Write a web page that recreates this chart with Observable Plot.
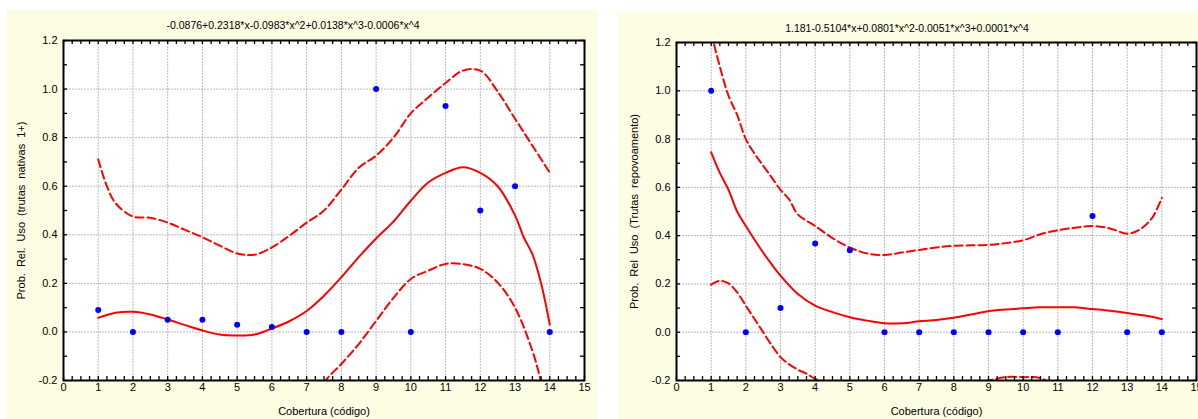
<!DOCTYPE html>
<html><head><meta charset="utf-8">
<script src="https://cdn.jsdelivr.net/npm/d3@7"></script>
<script src="https://cdn.jsdelivr.net/npm/@observablehq/plot@0.6"></script>
<style>
body{margin:0;background:#fff;width:1198px;height:419px;overflow:hidden;position:relative;font-family:"Liberation Sans",Arial,sans-serif;}
.panel{position:absolute;background:#fdfde3;}
.title{position:absolute;font-size:10.5px;line-height:12px;white-space:nowrap;transform:translateX(-50%);color:#000}
svg text{fill:#000}
g[aria-label="y-axis label"] text{word-spacing:3px}
</style></head><body>
<div id="p1" class="panel" style="left:6px;top:10px;width:591px;height:409px"></div>
<div id="p2" class="panel" style="left:618px;top:12px;width:580px;height:407px"></div>
<script>
// ---- tick labels ----
const xTicks = [0,1,2,3,4,5,6,7,8,9,10,11,12,13,14,15];
const yTicks = [-0.2,0,0.2,0.4,0.6,0.8,1.0,1.2];
const gridX = [1,2,3,4,5,6,7,8,9,10,11,12,13,14];
const gridY = [0,0.2,0.4,0.6,0.8,1.0];

// ---- panel 1: trutas nativas 1+ ----
const title1 = "-0.0876+0.2318*x-0.0983*x^2+0.0138*x^3-0.0006*x^4";
const ylabel1 = "Prob. Rel. Uso (trutas nativas 1+)";
const obsX = [1,2,3,4,5,6,7,8,9,10,11,12,13,14];
const nativeObs = [0.09,0.0,0.05,0.05,0.03,0.02,0.0,0.0,1.0,0.0,0.93,0.5,0.6,0.0];
const nativeFitX = [1,1.5,2,2.5,3,3.5,4,4.5,5,5.5,6,6.5,7,7.5,8,8.5,9,9.5,10,10.5,11,11.5,12,12.5,13,13.25,13.5,13.75,14];
const nativeFitY = [0.058,0.079,0.083,0.072,0.051,0.028,0.006,-0.011,-0.015,-0.011,0.014,0.044,0.086,0.149,0.225,0.308,0.385,0.454,0.54,0.615,0.655,0.678,0.655,0.60,0.48,0.39,0.32,0.2,0.03];
const nativeUpX = [1,1.25,1.5,2,2.5,3,3.5,4,4.5,5,5.5,6,6.5,7,7.5,8,8.5,9,9.5,10,10.5,11,11.5,12,12.5,13,13.5,14];
const nativeUpY = [0.71,0.6,0.53,0.475,0.47,0.45,0.42,0.39,0.355,0.323,0.318,0.348,0.396,0.45,0.5,0.586,0.676,0.726,0.80,0.9,0.965,1.025,1.076,1.076,0.99,0.878,0.767,0.656];
const nativeLoX = [7.2,7.55,8,8.5,9,9.5,10,10.5,11,11.5,12,12.5,13,13.5,13.75,14];
const nativeLoY = [-0.3,-0.2,-0.132,-0.05,0.045,0.14,0.218,0.252,0.28,0.279,0.26,0.203,0.1,-0.078,-0.205,-0.35];

// ---- panel 2: trutas repovoamento ----
const title2 = "1.181-0.5104*x+0.0801*x^2-0.0051*x^3+0.0001*x^4";
const ylabel2 = "Prob. Rel Uso (Trutas repovoamento)";
const stockObs = [1.0,0.0,0.1,0.367,0.34,0.0,0.0,0.0,0.0,0.0,0.0,0.481,0.0,0.0];
const stockFitX = [1,1.25,1.5,1.75,2,2.5,3,3.5,4,4.5,5,5.5,6,6.5,7,7.5,8,8.5,9,9.5,10,10.5,11,11.5,12,12.5,13,13.5,14];
const stockFitY = [0.745,0.66,0.59,0.5,0.44,0.33,0.234,0.158,0.11,0.083,0.062,0.048,0.037,0.037,0.045,0.051,0.06,0.073,0.087,0.094,0.099,0.103,0.103,0.103,0.096,0.089,0.08,0.069,0.055];
const stockUpX = [1,1.25,1.5,1.75,2,2.25,2.5,2.75,3,3.25,3.5,4,4.5,5,5.5,6,6.5,7,7.5,8,8.5,9,9.5,10,10.5,11,11.5,12,12.5,13,13.25,13.5,13.75,14];
const stockUpY = [1.24,1.1,0.98,0.9,0.80,0.74,0.69,0.64,0.59,0.55,0.488,0.44,0.39,0.351,0.326,0.32,0.33,0.341,0.351,0.358,0.36,0.362,0.369,0.381,0.406,0.422,0.433,0.44,0.43,0.408,0.417,0.44,0.48,0.556];
const stockLoX = [1,1.25,1.5,1.75,2,2.25,2.5,2.75,3,3.25,3.5,3.75,4,4.25,4.5,5,6,7,8,9,9.5,10,10.5,11,12];
const stockLoY = [0.197,0.213,0.202,0.165,0.11,0.055,0.0,-0.055,-0.103,-0.133,-0.155,-0.172,-0.193,-0.206,-0.22,-0.25,-0.27,-0.25,-0.22,-0.2,-0.186,-0.186,-0.19,-0.23,-0.3];

const xLabel = "Cobertura (código)";

function pts(xs, ys){ return xs.map((x,i)=>({x, y: ys[i]})); }

function panel(el, o){
  const fw = o.width - o.ml - o.mr, fh = o.height - o.mt - o.mb;
  const minorX = d3.range(0, 15.001, 0.25);
  const minorY = d3.range(-0.2, 1.2001, 0.1);
  const lineOpt = {x:"x", y:"y", stroke:"#ff0000", strokeWidth:2, curve:"catmull-rom", clip:true};
  const chart = Plot.plot({
    width: o.width, height: o.height,
    marginLeft: o.ml, marginRight: o.mr, marginTop: o.mt, marginBottom: o.mb,
    x: {domain:[0,15]}, y: {domain:[-0.2,1.2]},
    style: {background:"transparent", fontFamily:'"Liberation Sans", Arial, sans-serif', fontSize:"11px", overflow:"visible", color:"#000"},
    marks: [
      Plot.frame({fill:"white"}),
      Plot.ruleX(gridX, {stroke:"#bcbcbc", strokeWidth:1, strokeDasharray:"2,1"}),
      Plot.ruleY(gridY, {stroke:"#bcbcbc", strokeWidth:1, strokeDasharray:"2,1"}),
      Plot.line(pts(o.upX, o.upY), {...lineOpt, strokeDasharray:"8,4"}),
      Plot.line(pts(o.loX, o.loY), {...lineOpt, strokeDasharray:"8,4"}),
      Plot.line(pts(o.fitX, o.fitY), lineOpt),
      Plot.dot(pts(obsX, o.obs), {x:"x", y:"y", r:3, fill:"#0000ff"}),
      Plot.frame({stroke:"#000", strokeWidth:2}),
      Plot.tickX(minorX, {x:d=>d, insetTop: fh-4, stroke:"#000", strokeWidth:1.3}),
      Plot.tickX(minorX, {x:d=>d, insetBottom: fh-4, stroke:"#000", strokeWidth:1.3}),
      Plot.tickY(minorY, {y:d=>d, insetRight: fw-4, stroke:"#000", strokeWidth:1.3}),
      Plot.tickY(minorY, {y:d=>d, insetLeft: fw-4, stroke:"#000", strokeWidth:1.3}),
      Plot.axisX(xTicks, {tickSize:0, tickPadding:3, tickFormat:d=>String(d), label:xLabel, labelArrow:"none", labelAnchor:"center", labelOffset:34, fontSize:11}),
      Plot.axisY(yTicks, {tickSize:0, tickPadding:6, tickFormat:d=>d.toFixed(1), label:o.ylabel, labelArrow:"none", labelAnchor:"center", labelOffset:46, fontSize:11})
    ]
  });
  el.appendChild(chart);
  // strip any arrow glyphs left by older Plot versions
  chart.querySelectorAll('g[aria-label$="axis label"] text').forEach(t => {
    t.textContent = t.textContent.replace(/\s*[→↑←↓]\s*/g, "");
  });
  const t = document.createElement("div");
  t.className = "title";
  t.textContent = o.title;
  t.style.left = o.tx + "px";
  t.style.top = o.ty + "px";
  el.appendChild(t);
}

panel(document.getElementById("p1"), {
  width:591, height:409, ml:57, mr:13, mt:30, mb:39,
  title:title1, tx:287, ty:9, ylabel:ylabel1,
  obs:nativeObs, fitX:nativeFitX, fitY:nativeFitY, upX:nativeUpX, upY:nativeUpY, loX:nativeLoX, loY:nativeLoY
});
panel(document.getElementById("p2"), {
  width:580, height:407, ml:58, mr:2, mt:30, mb:39,
  title:title2, tx:289, ty:10, ylabel:ylabel2,
  obs:stockObs, fitX:stockFitX, fitY:stockFitY, upX:stockUpX, upY:stockUpY, loX:stockLoX, loY:stockLoY
});
</script>
</body></html>
